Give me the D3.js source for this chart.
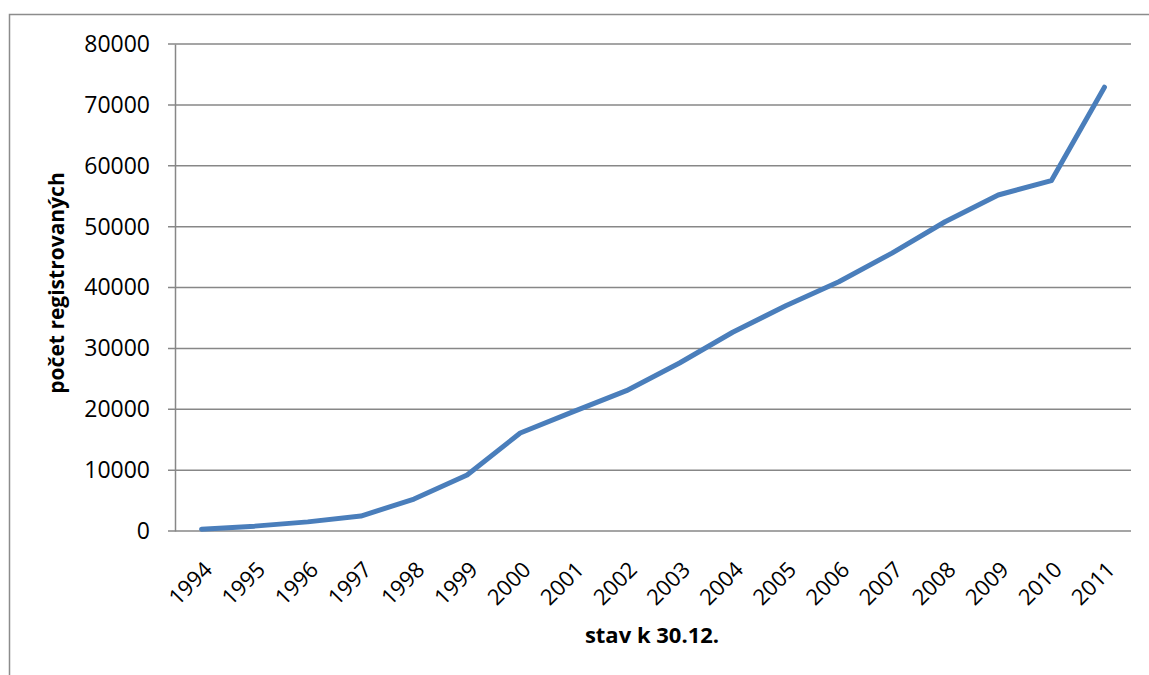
<!DOCTYPE html>
<html>
<head>
<meta charset="utf-8">
<script src="https://cdn.jsdelivr.net/npm/d3@7"></script>
<style>
  body { margin: 0; background: #fff; }
  svg { display: block; }
</style>
</head>
<body>
<div id="chart"></div>
<script>
var years = ["1994", "1995", "1996", "1997", "1998", "1999", "2000", "2001", "2002",
             "2003", "2004", "2005", "2006", "2007", "2008", "2009", "2010", "2011"];
var registered = [300, 800, 1500, 2450, 5250, 9200, 16100, 19600, 23050,
                  27600, 32650, 37000, 40950, 45650, 50800, 55200, 57550, 72900];
var yTicks = [0, 10000, 20000, 30000, 40000, 50000, 60000, 70000, 80000];

var W = 1149, H = 675;
var margin = {top: 44, right: 18, bottom: 144, left: 175},
    width = W - margin.left - margin.right,
    height = H - margin.top - margin.bottom;

var svg = d3.select("#chart").append("svg")
    .attr("width", W)
    .attr("height", H);

// outer chart border
svg.append("path")
    .attr("d", "M9.5," + H + "V14.5H" + W)
    .attr("fill", "none")
    .attr("stroke", "#8c8c8c")
    .attr("stroke-width", 1.5);

var g = svg.append("g").attr("transform", "translate(" + margin.left + "," + margin.top + ")");

var x = d3.scaleBand().domain(years).range([0, width]);
var y = d3.scaleLinear().domain([0, 80000]).range([height, 0]);

// gridlines
g.selectAll(".grid").data(yTicks).enter().append("line")
    .attr("x1", -7).attr("x2", width)
    .attr("y1", d => y(d)).attr("y2", d => y(d))
    .attr("stroke", "#878787")
    .attr("stroke-width", 1.5);

// y axis
var yAxis = d3.axisLeft(y).tickValues(yTicks).tickSize(0).tickPadding(25).tickFormat(d3.format("d"));
var ya = g.append("g").call(yAxis);
ya.select(".domain").attr("stroke", "#878787").attr("stroke-width", 1.5);
ya.selectAll("text")
    .attr("font-family", "Open Sans, sans-serif")
    .attr("font-size", 23)
    .attr("fill", "#000");

// x axis
var xAxis = d3.axisBottom(x).tickSize(0).tickPadding(0);
var xa = g.append("g").attr("transform", "translate(0," + height + ")").call(xAxis);
xa.select(".domain").remove();
xa.selectAll("text")
    .attr("font-family", "Open Sans, sans-serif")
    .attr("font-size", 22)
    .attr("fill", "#000")
    .attr("text-anchor", "end")
    .attr("dy", 0)
    .attr("transform", "translate(12,40) rotate(-45)");

// line
var line = d3.line()
    .x((d, i) => x(years[i]) + x.bandwidth() / 2)
    .y(d => y(d));

g.append("path")
    .datum(registered)
    .attr("d", line)
    .attr("fill", "none")
    .attr("stroke", "#4a7ebb")
    .attr("stroke-width", 5)
    .attr("stroke-linecap", "round")
    .attr("stroke-linejoin", "round");

// axis titles
svg.append("text")
    .attr("transform", "translate(64,283) rotate(-90)")
    .attr("text-anchor", "middle")
    .attr("font-family", "Open Sans, sans-serif")
    .attr("font-weight", "bold")
    .attr("font-size", 21)
    .text("počet registrovaných");

svg.append("text")
    .attr("x", 652).attr("y", 643)
    .attr("text-anchor", "middle")
    .attr("font-family", "Open Sans, sans-serif")
    .attr("font-weight", "bold")
    .attr("font-size", 22)
    .text("stav k 30.12.");
</script>
</body>
</html>
